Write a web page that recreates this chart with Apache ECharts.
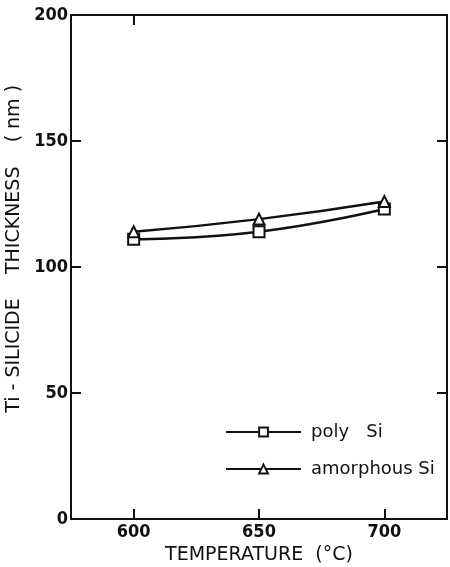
<!DOCTYPE html>
<html>
<head>
<meta charset="utf-8">
<script src="https://cdn.jsdelivr.net/npm/echarts@6/dist/echarts.min.js"></script>
<style>
  html, body { margin: 0; padding: 0; background: #fff; }
  #chart { width: 450px; height: 567px; }
</style>
</head>
<body>
<div id="chart"></div>
<script>
// temperatures (deg C) and silicide thickness (nm)
var temps = [600, 650, 700];
var polySi = [111, 114, 123];
var amorphousSi = [114, 119, 126];
var xTicks = [600, 650, 700];
var yTicks = [0, 50, 100, 150, 200];

var font = 'DejaVu Sans';
var tickFont = 'DejaVu Sans Condensed';
var ink = '#111';

function pairs(xs, ys) {
    return xs.map(function (x, i) { return [x, ys[i]]; });
}

var chart = echarts.init(document.getElementById('chart'));
chart.setOption({
    animation: false,
    backgroundColor: '#fff',
    grid: { left: 71, right: 3, top: 15, bottom: 48, outerBoundsMode: 'none' },
    legend: {
        orient: 'vertical',
        left: 220,
        top: 418,
        itemWidth: 75,
        itemHeight: 11,
        itemGap: 19,
        textStyle: { fontFamily: font, fontSize: 18, color: ink, padding: [0, 0, 0, 5] },
        data: ['poly   Si', 'amorphous Si']
    },
    xAxis: [{
        type: 'value',
        min: 575,
        max: 725,
        name: 'TEMPERATURE  (°C)',
        nameLocation: 'middle',
        nameGap: 27,
        nameTextStyle: { fontFamily: font, fontSize: 19, color: ink },
        axisLine: { onZero: false, lineStyle: { color: ink, width: 2 } },
        axisTick: { inside: true, length: 10, customValues: xTicks, lineStyle: { color: ink, width: 2 } },
        axisLabel: { customValues: xTicks, margin: 4, fontFamily: tickFont, fontSize: 18, fontWeight: 'bold', color: ink },
        splitLine: { show: false }
    }, {
        type: 'value',
        position: 'top',
        min: 575,
        max: 725,
        axisLine: { onZero: false, lineStyle: { color: ink, width: 2 } },
        axisTick: { inside: true, length: 10, customValues: [600], lineStyle: { color: ink, width: 2 } },
        axisLabel: { show: false },
        splitLine: { show: false }
    }],
    yAxis: [{
        type: 'value',
        min: 0,
        max: 200,
        interval: 50,
        name: '      Ti - SILICIDE    THICKNESS    ( nm )',
        nameLocation: 'middle',
        nameGap: 47,
        nameMoveOverlap: false,
        nameTextStyle: { fontFamily: font, fontSize: 19, color: ink },
        axisLine: { show: true, onZero: false, lineStyle: { color: ink, width: 2 } },
        axisTick: { inside: true, length: 10, customValues: yTicks.slice(1, 4), lineStyle: { color: ink, width: 2 } },
        axisLabel: { customValues: yTicks, margin: 3, fontFamily: tickFont, fontSize: 18, fontWeight: 'bold', color: ink },
        splitLine: { show: false }
    }, {
        type: 'value',
        position: 'right',
        min: 0,
        max: 200,
        interval: 50,
        axisLine: { show: true, onZero: false, lineStyle: { color: ink, width: 2 } },
        axisTick: { inside: true, length: 10, customValues: yTicks.slice(1, 4), lineStyle: { color: ink, width: 2 } },
        axisLabel: { show: false },
        splitLine: { show: false }
    }],
    series: [{
        name: 'poly   Si',
        type: 'line',
        smooth: true,
        data: pairs(temps, polySi),
        symbol: 'rect',
        symbolSize: 11,
        lineStyle: { color: ink, width: 2.5 },
        itemStyle: { color: '#fff', borderColor: ink, borderWidth: 2 }
    }, {
        name: 'amorphous Si',
        type: 'line',
        smooth: true,
        data: pairs(temps, amorphousSi),
        symbol: 'triangle',
        symbolSize: 11,
        lineStyle: { color: ink, width: 2.5 },
        itemStyle: { color: '#fff', borderColor: ink, borderWidth: 2 }
    }]
});
</script>
</body>
</html>
